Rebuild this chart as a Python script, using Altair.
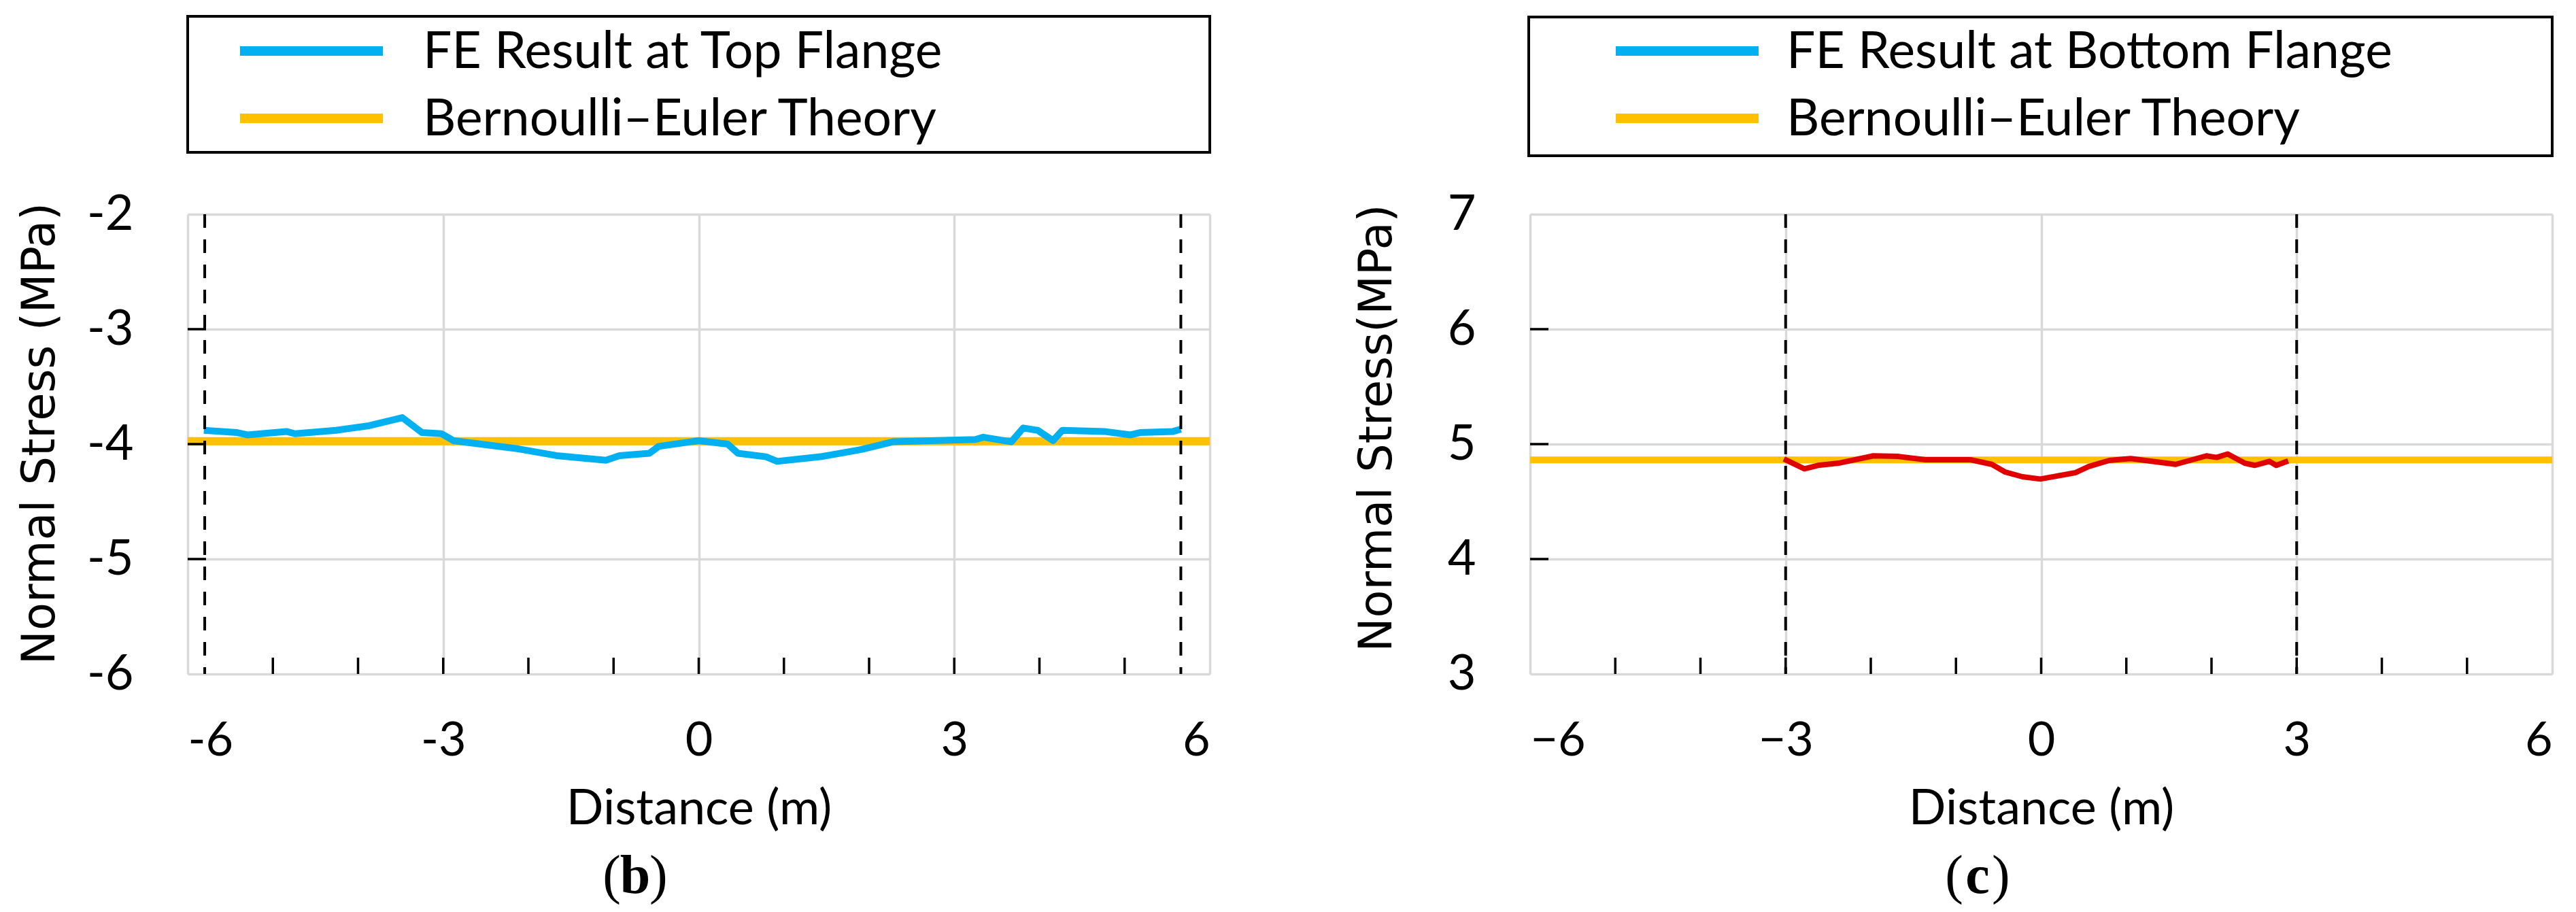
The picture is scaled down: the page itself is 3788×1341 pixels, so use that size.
import altair as alt
import pandas as pd

# ---------------- data ----------------
top_x = [-5.81, -5.42, -5.30, -4.84, -4.74, -4.26, -3.87, -3.48, -3.25, -3.02, -2.88,
         -2.13, -1.67, -1.09, -0.93, -0.58, -0.47, 0.0, 0.34, 0.46, 0.79, 0.92, 1.43,
         1.89, 2.28, 3.25, 3.34, 3.67, 3.81, 3.98, 4.16, 4.27, 4.76, 5.07, 5.18, 5.57, 5.66]
top_y = [-3.88, -3.90, -3.92, -3.89, -3.91, -3.88, -3.84, -3.77, -3.90, -3.91, -3.97,
         -4.04, -4.10, -4.14, -4.10, -4.08, -4.02, -3.97, -4.00, -4.08, -4.11, -4.15, -4.11,
         -4.05, -3.98, -3.96, -3.94, -3.98, -3.86, -3.88, -3.97, -3.88, -3.89, -3.92, -3.90, -3.89, -3.87]
bot_x = [-3.02, -2.78, -2.62, -2.38, -1.97, -1.68, -1.36, -0.83, -0.58, -0.42, -0.22, -0.01,
         0.40, 0.56, 0.80, 1.05, 1.58, 1.94, 2.06, 2.19, 2.39, 2.51, 2.68, 2.76, 2.90]
bot_y = [4.87, 4.785, 4.815, 4.834, 4.898, 4.893, 4.864, 4.864, 4.824, 4.756, 4.716, 4.696,
         4.751, 4.805, 4.858, 4.874, 4.824, 4.898, 4.884, 4.914, 4.834, 4.815, 4.85, 4.815, 4.854]
theory_top = -3.975
theory_bot = 4.862
dash_top = [-5.8, 5.66]
dash_bot = [-3.0, 3.0]

x_ticks_major = [-6, -3, 0, 3, 6]
x_ticks_minor = [-5, -4, -3, -2, -1, 0, 1, 2, 3, 4, 5]
y_ticks_top = [-6, -5, -4, -3, -2]
y_ticks_bot = [3, 4, 5, 6, 7]

legend_top = ["FE Result at Top Flange", "Bernoulli\u2013Euler Theory"]
legend_bot = ["FE Result at Bottom Flange", "Bernoulli\u2013Euler Theory"]
panel_labels = ["b", "c"]
x_title = "Distance (m)"
y_title_top = "Normal Stress (MPa)"
y_title_bot = "Normal Stress(MPa)"

BLUE = "#00b0f0"
ORANGE = "#ffc000"
RED = "#e00000"
GRID = "#d9d9d9"

W, H = 1503, 676
LAB = "Lato"


def panel(xs, ys, theory, dashes, ydom, yticks, ytitle, ytitleX, ytitleY, legend,
          line_color, theory_w, line_w, label, hyphen, legend_pos):
    one = pd.DataFrame({"k": [0]})
    fe = pd.DataFrame({"x": xs, "y": ys})
    xscale = alt.Scale(domain=[-6, 6], nice=False)
    yscale = alt.Scale(domain=ydom, nice=False)
    lab_expr = "replace(datum.label, '\u2212', '-')" if hyphen else "datum.label"
    xaxis = alt.Axis(values=x_ticks_major, format="d", grid=True, gridColor=GRID,
                     gridWidth=3.5, ticks=False, tickSize=0, domain=False, labelFont=LAB,
                     labelFontSize=70, labelColor="black", labelPadding=64,
                     labelExpr=lab_expr, labelOverlap=False,
                     title=x_title, titleFont=LAB, titleFontSize=72, titleFontWeight="normal",
                     titleColor="black", titleX=W / 2, titleY=220, titleBaseline="alphabetic",
                     titleAlign="center")
    yaxis = alt.Axis(values=yticks, format="d", grid=True, gridColor=GRID, gridWidth=3.5,
                     ticks=False, tickSize=0, domain=False, labelFont=LAB, labelFontSize=72,
                     labelColor="black", labelPadding=80, labelExpr=lab_expr,
                     labelOverlap=False,
                     title=ytitle, titleFont="DejaVu Sans", titleFontSize=67,
                     titleFontWeight="normal", titleColor="black", titleX=ytitleX,
                     titleY=ytitleY, titleAngle=270, titleAlign="center",
                     titleBaseline="middle")

    theory_df = pd.DataFrame({"x": [-6, 6], "y": [theory, theory]})
    base_theory = alt.Chart(theory_df).mark_line(color=ORANGE, strokeWidth=theory_w).encode(
        x=alt.X("x:Q", scale=xscale, axis=xaxis),
        y=alt.Y("y:Q", scale=yscale, axis=yaxis),
    )
    fe_line = alt.Chart(fe).mark_line(color=line_color, strokeWidth=line_w,
                                      strokeJoin="round").encode(
        x=alt.X("x:Q", scale=xscale), y=alt.Y("y:Q", scale=yscale))

    dash = alt.Chart(pd.DataFrame({"x": dashes})).mark_rule(
        color="black", strokeWidth=4, strokeDash=[20, 17]).encode(
        x=alt.X("x:Q", scale=xscale), y=alt.value(0), y2=alt.value(H))

    xt = alt.Chart(pd.DataFrame({"x": x_ticks_minor})).mark_rule(
        color="black", strokeWidth=3.5).encode(
        x=alt.X("x:Q", scale=xscale), y=alt.value(H), y2=alt.value(H - 24))
    yt = alt.Chart(pd.DataFrame({"y": yticks[1:-1]})).mark_rule(
        color="black", strokeWidth=3.5).encode(
        y=alt.Y("y:Q", scale=yscale), x=alt.value(0), x2=alt.value(27))

    bx0, bx1, by0, by1, sw0, sw1, tx, r1, r2 = legend_pos
    box = alt.Chart(one).mark_rect(fillOpacity=0, stroke="black", strokeWidth=4).encode(
        x=alt.value(bx0), x2=alt.value(bx1), y=alt.value(by0), y2=alt.value(by1))
    sw_a = alt.Chart(one).mark_rule(color=BLUE, strokeWidth=14).encode(
        x=alt.value(sw0), x2=alt.value(sw1), y=alt.value(r1))
    sw_b = alt.Chart(one).mark_rule(color=ORANGE, strokeWidth=14).encode(
        x=alt.value(sw0), x2=alt.value(sw1), y=alt.value(r2))
    t_a = alt.Chart(one).mark_text(font=LAB, fontSize=75, align="left", baseline="middle",
                                   color="black").encode(
        x=alt.value(tx), y=alt.value(r1 + 2), text=alt.value(legend[0]))
    t_b = alt.Chart(one).mark_text(font=LAB, fontSize=75, align="left", baseline="middle",
                                   color="black").encode(
        x=alt.value(tx), y=alt.value(r2 + 2), text=alt.value(legend[1]))

    cx = 658
    ly = 974
    lp = alt.Chart(one).mark_text(font="Liberation Serif", fontSize=80, align="right",
                                  baseline="middle", color="black").encode(
        x=alt.value(cx - 21), y=alt.value(ly), text=alt.value("("))
    lb = alt.Chart(one).mark_text(font="Liberation Serif", fontSize=80, fontWeight="bold",
                                  align="center", baseline="middle", color="black").encode(
        x=alt.value(cx), y=alt.value(ly), text=alt.value(label))
    rp = alt.Chart(one).mark_text(font="Liberation Serif", fontSize=80, align="left",
                                  baseline="middle", color="black").encode(
        x=alt.value(cx + 21), y=alt.value(ly), text=alt.value(")"))

    return alt.layer(base_theory, fe_line, dash, xt, yt, box, sw_a, sw_b, t_a, t_b,
                     lp, lb, rp).properties(width=W, height=H)


left = panel(top_x, top_y, theory_top, dash_top, [-6, -2], y_ticks_top, y_title_top,
             -217, 322, legend_top, BLUE, 12, 10, panel_labels[0], True,
             (0, W, -291, -91, 77, 287, 346, -240, -141))
right = panel(bot_x, bot_y, theory_bot, dash_bot, [3, 7], y_ticks_bot, y_title_bot,
              -225, 314, legend_bot, RED, 10, 8, panel_labels[1], False,
              (-2, W, -290, -86, 126, 336, 377, -240, -141))

chart = alt.hconcat(left, right, spacing=471, bounds="flush").properties(
    padding={"left": 16, "top": 13, "right": 5, "bottom": 5}
).configure_view(stroke="black", strokeWidth=4).configure(background="white")

chart.save("out.html", embed_options={"renderer": "svg", "actions": False})
